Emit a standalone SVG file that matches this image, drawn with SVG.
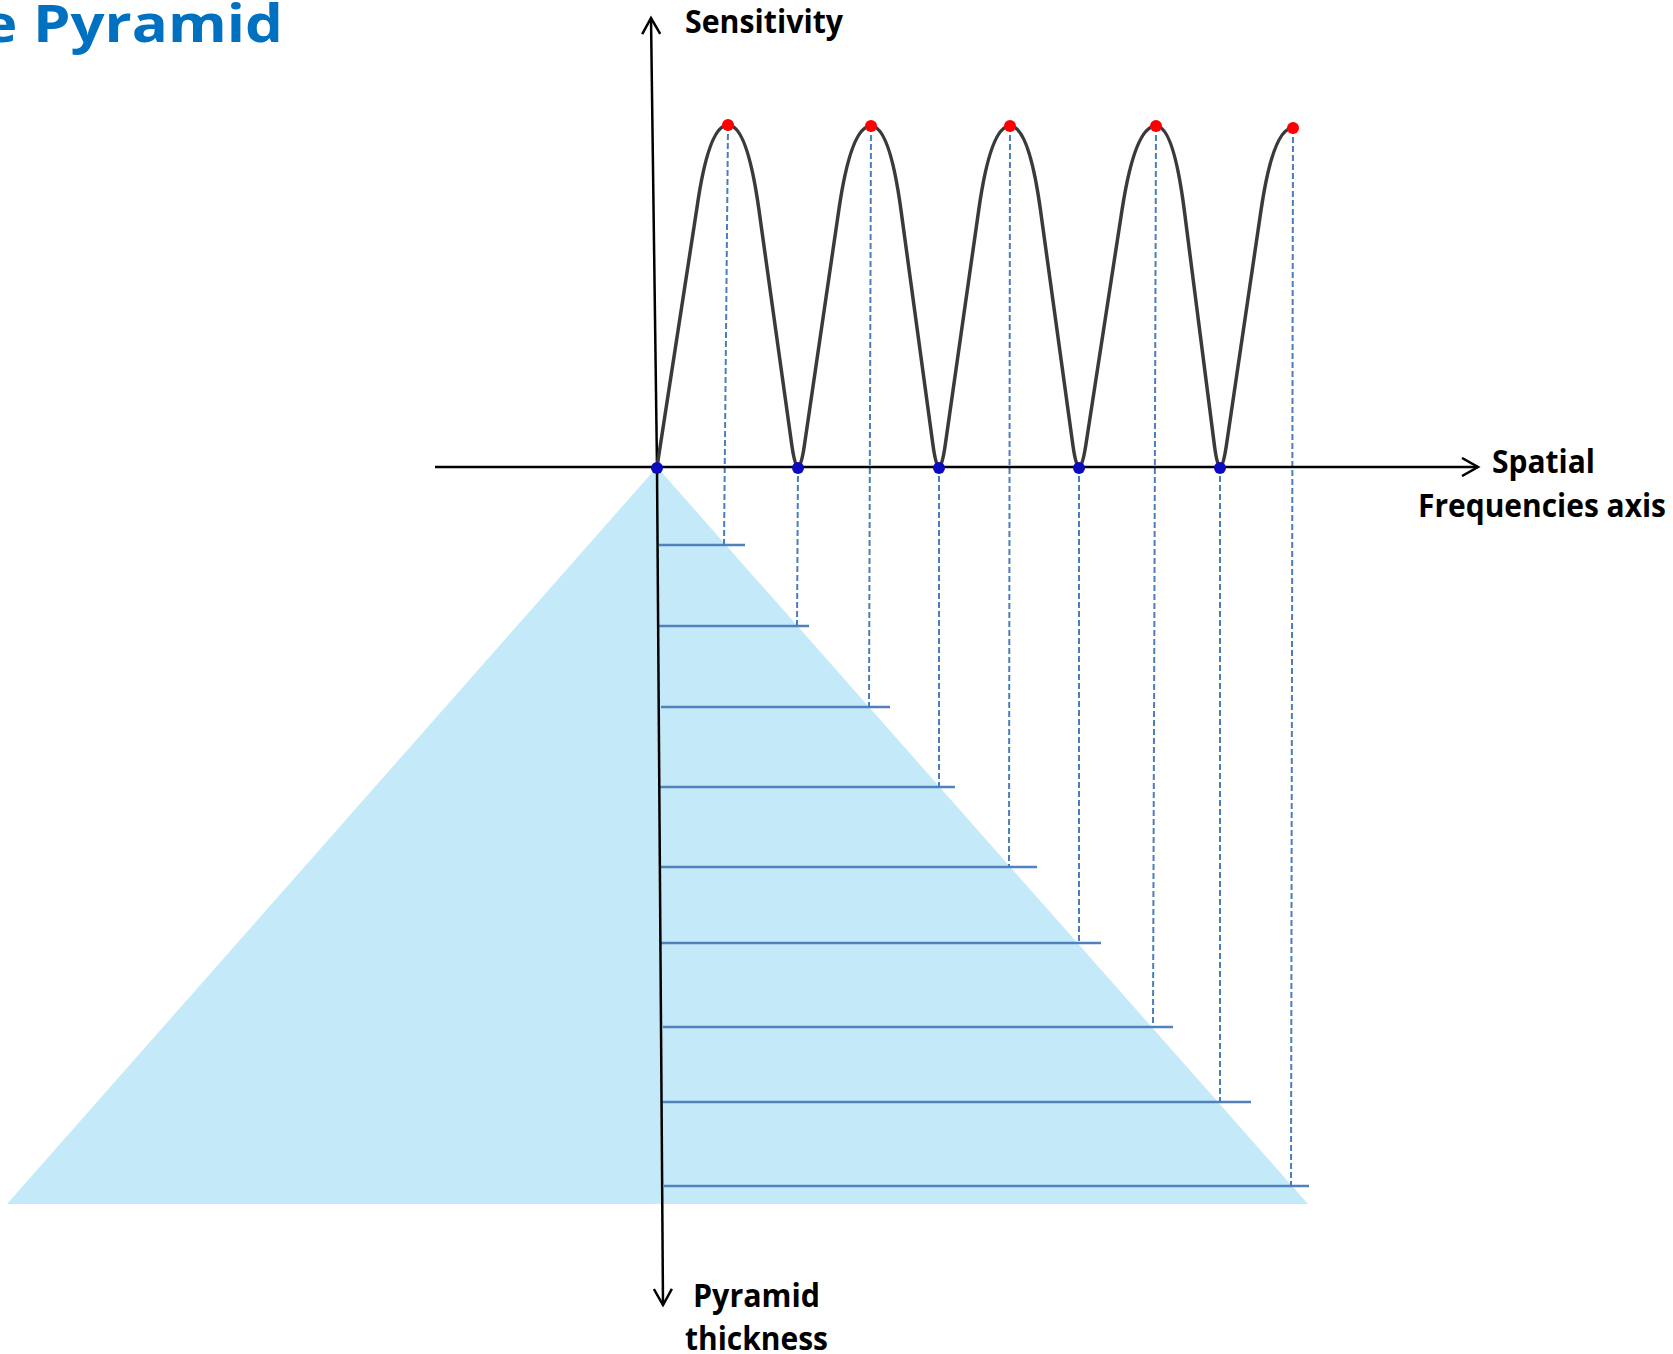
<svg xmlns="http://www.w3.org/2000/svg" width="1673" height="1354" viewBox="0 0 1673 1354">
  <defs>
    <style>
      .lbl { font-family: "Open Sans", "Liberation Sans", sans-serif; font-weight: 700; font-size: 33px; fill: #000; }
      .title { font-family: "Open Sans", "Liberation Sans", sans-serif; font-weight: 700; font-size: 52px; fill: #0070c0; }
      .axis { stroke: #000; stroke-width: 2.5; fill: none; }
      .dash { stroke: #4a7ebb; stroke-width: 2; stroke-dasharray: 6 3; fill: none; }
      .level { stroke: #4f81bd; stroke-width: 2.5; fill: none; }
      .curve { stroke: #3a3a3a; stroke-width: 3.5; fill: none; stroke-linejoin: round; }
      .peak { fill: #ff0000; }
      .zero { fill: #0a0abf; }
    </style>
    <marker id="open" markerWidth="20" markerHeight="20" refX="17" refY="10" orient="auto" markerUnits="userSpaceOnUse">
      <path d="M1,1 L17,10 L1,19" fill="none" stroke="#000" stroke-width="2.5"/>
    </marker>
  </defs>
  <rect width="1673" height="1354" fill="#ffffff"/>

  <text class="title" x="-18" y="42" textLength="301" lengthAdjust="spacingAndGlyphs">e Pyramid</text>

  <g id="pyramid">
    <polygon points="657,467 7,1204 1308,1204" fill="#c4eaf9"/>
  </g>

  <g id="connectors">
    <g id="levels">
      <line class="level" x1="659" y1="545" x2="745" y2="545"/>
      <line class="level" x1="659" y1="626" x2="809" y2="626"/>
      <line class="level" x1="661" y1="707" x2="890" y2="707"/>
      <line class="level" x1="660" y1="787" x2="955" y2="787"/>
      <line class="level" x1="661" y1="867" x2="1037" y2="867"/>
      <line class="level" x1="661" y1="943" x2="1101" y2="943"/>
      <line class="level" x1="663" y1="1027" x2="1173" y2="1027"/>
      <line class="level" x1="663" y1="1102" x2="1251" y2="1102"/>
      <line class="level" x1="664" y1="1186" x2="1309" y2="1186"/>
    </g>
    <g id="projections">
      <line class="dash" x1="728" y1="125" x2="724" y2="545"/>
      <line class="dash" x1="798" y1="467" x2="797" y2="626"/>
      <line class="dash" x1="871" y1="126" x2="869" y2="707"/>
      <line class="dash" x1="939" y1="467" x2="939" y2="787"/>
      <line class="dash" x1="1010" y1="126" x2="1009" y2="867"/>
      <line class="dash" x1="1079" y1="467" x2="1079" y2="943"/>
      <line class="dash" x1="1156" y1="126" x2="1153" y2="1027"/>
      <line class="dash" x1="1220" y1="467" x2="1220" y2="1102"/>
      <line class="dash" x1="1293" y1="128" x2="1291" y2="1186"/>
    </g>
    <g id="axes">
      <line class="axis" x1="435" y1="467" x2="1478" y2="467" marker-end="url(#open)"/>
      <line class="axis" x1="657" y1="467" x2="651" y2="18" marker-end="url(#open)"/>
      <line class="axis" x1="657" y1="467" x2="663" y2="1305" marker-end="url(#open)"/>
    </g>
  </g>

  <g id="sensitivity-curve">
    <path class="curve" d="M657,467 L696.8,208.8 Q708.7,125 728,125
      Q747,125 758.8,208.8 L791.8,445.1 Q798,488.9 804.4,445.2
      L838.9,209.5 Q851.1,126 871,126
      Q889.5,126 900.9,209.5 L933,445.2 Q939,488.8 945.2,445.2
      L978.8,209.5 Q990.7,126 1010,126
      Q1028.8,126 1040.4,209.5 L1072.9,445.2 Q1079,488.8 1085.8,445.2
      L1122.1,209.5 Q1135.1,126 1156,126
      Q1173.4,126 1184.2,209.5 L1214.4,445.2 Q1220,488.8 1226.4,445.3
      L1260.9,211.1 Q1273.1,128 1293,128"/>
  </g>

  <g id="peaks">
    <circle class="peak" cx="728" cy="125" r="6"/>
    <circle class="peak" cx="871" cy="126" r="6"/>
    <circle class="peak" cx="1010" cy="126" r="6"/>
    <circle class="peak" cx="1156" cy="126" r="6"/>
    <circle class="peak" cx="1293" cy="128" r="6"/>
  </g>
  <g id="zeros">
    <circle class="zero" cx="657" cy="468" r="6"/>
    <circle class="zero" cx="798" cy="468" r="6"/>
    <circle class="zero" cx="939" cy="468" r="6"/>
    <circle class="zero" cx="1079" cy="468" r="6"/>
    <circle class="zero" cx="1220" cy="468" r="6"/>
  </g>

  <g id="label-sensitivity">
    <text class="lbl" x="685" y="33" textLength="158" lengthAdjust="spacingAndGlyphs">Sensitivity</text>
  </g>
  <g id="label-spatial">
    <text class="lbl" x="1492" y="473" textLength="103" lengthAdjust="spacingAndGlyphs">Spatial</text>
    <text class="lbl" x="1418" y="517" textLength="248" lengthAdjust="spacingAndGlyphs">Frequencies axis</text>
  </g>
  <g id="label-thickness">
    <text class="lbl" x="693" y="1307" textLength="127" lengthAdjust="spacingAndGlyphs">Pyramid</text>
    <text class="lbl" x="685" y="1350" textLength="143" lengthAdjust="spacingAndGlyphs">thickness</text>
  </g>
</svg>
